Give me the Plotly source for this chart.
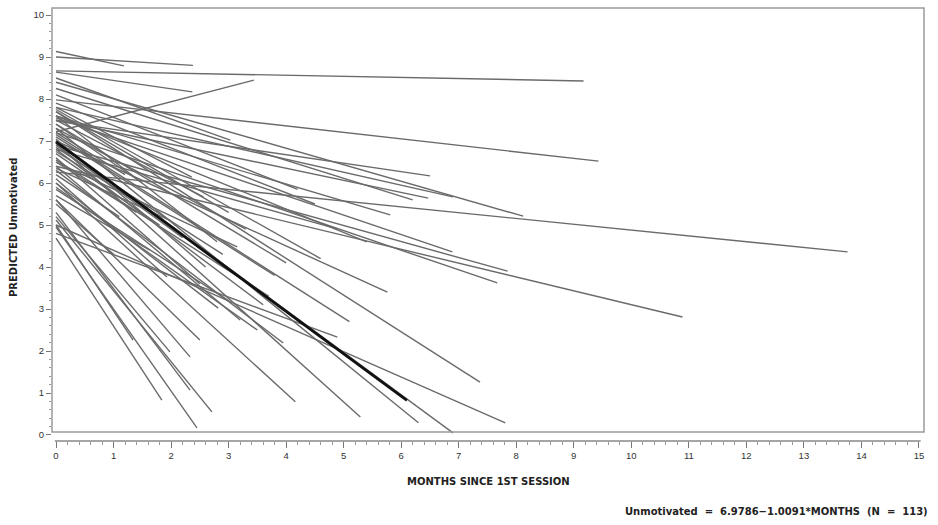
import plotly.graph_objects as go

# ---- data: individual predicted trajectories (start at month 0) ----
start_y = [9.13, 9.00, 8.67, 8.64, 7.22, 8.50, 7.98, 6.26, 6.40, 8.40,
           7.48, 7.50, 7.80, 7.60, 7.55, 7.20, 6.90, 7.00, 6.50, 7.70,
           5.00, 7.00, 7.30, 6.95, 6.00, 6.30, 4.80, 6.40, 6.00, 6.10,
           5.70, 5.60, 5.60, 5.30, 5.20, 5.00, 4.69, 4.95, 5.12, 7.80,
           7.50, 7.70, 8.10, 7.40, 6.70, 6.90, 7.60, 7.10, 6.60, 6.80,
           7.90, 7.20, 6.50, 7.00, 6.20, 5.50, 5.90, 6.80, 7.40, 6.35,
           7.75, 7.30, 6.85, 7.15, 6.55, 7.60, 8.25, 6.75, 7.05, 5.85]
end_x = [1.18, 2.38, 9.17, 2.37, 3.44, 3.03, 9.43, 13.76, 10.89, 8.12,
         6.50, 6.47, 6.90, 5.81, 6.89, 7.67, 7.85, 5.76, 3.15, 7.37,
         7.81, 6.90, 6.30, 5.29, 4.16, 3.95, 4.89, 3.20, 2.82, 1.93,
         1.63, 2.50, 2.33, 2.33, 1.98, 1.34, 1.84, 2.45, 2.71, 2.36,
         2.56, 3.00, 4.20, 1.50, 1.80, 2.20, 2.80, 3.80, 2.50, 4.90,
         4.50, 1.20, 1.40, 1.00, 1.10, 1.00, 3.50, 3.60, 4.00, 2.00,
         4.60, 3.30, 2.90, 5.10, 3.70, 5.40, 6.20, 1.60, 2.60, 3.00]
end_y = [8.79, 8.80, 8.43, 8.17, 8.45, 7.02, 6.52, 4.36, 2.81, 5.21,
         6.17, 5.64, 5.67, 5.24, 4.36, 3.62, 3.90, 3.40, 4.48, 1.26,
         0.29, 0.05, 0.29, 0.43, 0.79, 2.19, 2.33, 2.74, 3.02, 3.76,
         4.40, 2.26, 1.86, 1.07, 1.98, 2.26, 0.83, 0.17, 0.55, 6.14,
         5.67, 5.30, 5.85, 6.00, 5.00, 4.70, 4.60, 3.80, 3.60, 4.90,
         5.50, 6.20, 5.30, 6.00, 5.20, 4.30, 2.50, 3.10, 4.10, 5.10,
         4.20, 4.90, 4.30, 2.70, 3.30, 4.60, 5.60, 5.40, 4.00, 3.20]

# ---- average trajectory ----
mean_intercept = 6.9786
mean_slope = -1.0091
mean_x = [0.0, 6.1]

x_ticks = list(range(0, 16))
y_ticks = list(range(0, 11))

xs, ys = [], []
for s, ex, ey in zip(start_y, end_x, end_y):
    xs += [0.0, ex, None]
    ys += [s, ey, None]

fig = go.Figure()
fig.add_trace(go.Scatter(x=xs, y=ys, mode="lines",
                         line=dict(color="#6a6a6a", width=1.4),
                         hoverinfo="skip", showlegend=False))
fig.add_trace(go.Scatter(x=mean_x,
                         y=[mean_intercept + mean_slope * v for v in mean_x],
                         mode="lines", line=dict(color="#111111", width=2.8),
                         showlegend=False))

TICKFONT = "Liberation Sans Narrow, Liberation Sans, Arial, sans-serif"
FONT = "DejaVu Sans, Liberation Sans, Arial, sans-serif"

fig.update_layout(
    width=938, height=525,
    margin=dict(l=52, r=14, t=8, b=84),
    paper_bgcolor="white", plot_bgcolor="white",
    font=dict(family=TICKFONT, size=9, color="#333333"),
    xaxis=dict(range=[-0.0695, 15.088], tickvals=x_ticks,
               ticktext=[str(v) for v in x_ticks],
               showgrid=False, zeroline=False, showline=False,
               ticks="outside", ticklen=6, tickcolor="#777777", tickwidth=1,
               minor=dict(dtick=0.2, ticks="outside", ticklen=3,
                          tickcolor="#999999", showgrid=False),
               tickfont=dict(family=TICKFONT, size=9.5, color="#333333")),
    yaxis=dict(range=[-0.143, 10.167], tickvals=y_ticks,
               ticktext=[str(v) for v in y_ticks],
               showgrid=False, zeroline=False, showline=False,
               ticks="outside", ticklen=5, tickcolor="#777777", tickwidth=1,
               minor=dict(dtick=0.2, ticks="outside", ticklen=2,
                          tickcolor="#999999", showgrid=False),
               tickfont=dict(family=TICKFONT, size=9.5, color="#333333")),
)

# frame and separate x-axis line
fig.add_shape(type="rect", xref="paper", yref="paper", x0=0, x1=1,
              y0=0.021, y1=1, line=dict(color="#9a9a9a", width=1.5))
fig.add_shape(type="line", xref="x", yref="paper", x0=-0.02, x1=15.03,
              y0=0, y1=0, line=dict(color="#888888", width=1.5))

fig.add_annotation(text="<b>MONTHS SINCE 1ST SESSION</b>", xref="paper",
                   yref="paper", x=(488 - 52) / 872, y=(441 - 482) / 433,
                   xanchor="center", yanchor="middle",
                   showarrow=False, font=dict(family=FONT, size=10, color="#222222"))
fig.add_annotation(text="<b>PREDICTED Unmotivated</b>", xref="paper",
                   yref="paper", x=(14 - 52) / 872, y=(441 - 228) / 433,
                   xanchor="center", yanchor="middle",
                   textangle=-90, showarrow=False,
                   font=dict(family=FONT, size=10, color="#222222"))
fig.add_annotation(text="<b>Unmotivated  =  6.9786\u22121.0091*MONTHS  (N  =  113)</b>",
                   xref="paper", yref="paper", x=(930 - 52) / 872,
                   y=(441 - 511) / 433, xanchor="right", yanchor="middle",
                   showarrow=False,
                   font=dict(family=FONT, size=10, color="#222222"))

fig.write_html("out.html", config={"displayModeBar": False},
               post_script="document.body.style.margin='0';document.body.style.overflow='hidden';")
